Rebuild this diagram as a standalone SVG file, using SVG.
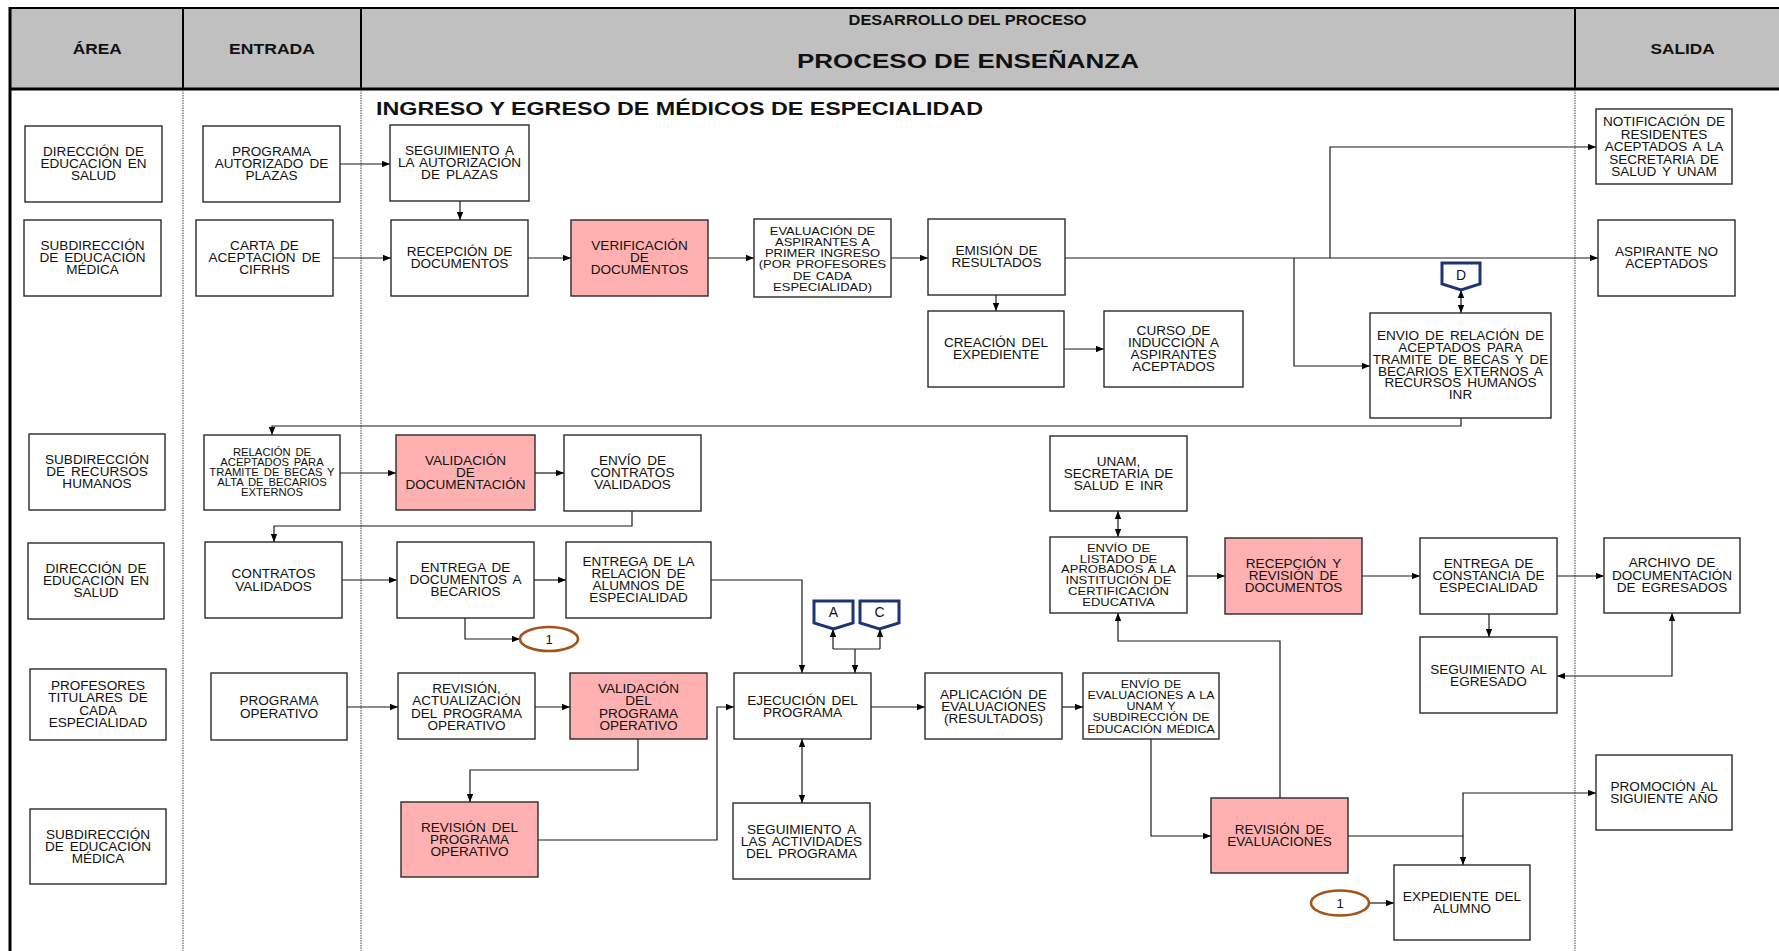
<svg xmlns="http://www.w3.org/2000/svg" width="1779" height="951" viewBox="0 0 1779 951">
<style>
.bx{fill:#fff;stroke:#2a2a2a;stroke-width:1.4}
.pk{fill:#ffb1b1;stroke:#2a2a2a;stroke-width:1.4}
.t{font-family:"Liberation Sans",Arial,sans-serif;font-size:12px;text-anchor:middle;fill:#111;word-spacing:2px}
.hd{font-family:"Liberation Sans",Arial,sans-serif;font-weight:bold;fill:#111}
.cn{fill:none;stroke:#1a1a1a;stroke-width:1.2}
.ar{marker-end:url(#ah)}
.dbl{marker-start:url(#ah);marker-end:url(#ah)}
.lane{stroke:#666;stroke-width:1.2;stroke-dasharray:1.5 1}
.off{fill:#fff;stroke:#1c3473;stroke-width:3}
.ov{fill:#fff;stroke:#a3541c;stroke-width:2.6}
.ml{font-family:"Liberation Sans",Arial,sans-serif;font-size:14px;text-anchor:middle;fill:#111}
</style>
<defs>
<marker id="ah" viewBox="0 0 10 8" refX="10" refY="4" markerWidth="8" markerHeight="6.4" markerUnits="userSpaceOnUse" orient="auto-start-reverse"><path d="M0,0 L10,4 L0,8 z" fill="#000"/></marker>
</defs>
<rect width="1779" height="951" fill="#fff"/>
<g id="header">
<rect x="10" y="8" width="1769" height="81" fill="#c0c0c0"/>
<line x1="10" y1="8" x2="1779" y2="8" stroke="#000" stroke-width="2"/>
<line x1="10" y1="89" x2="1779" y2="89" stroke="#000" stroke-width="3"/>
<line x1="10" y1="7" x2="10" y2="951" stroke="#000" stroke-width="3"/>
<line x1="183" y1="8" x2="183" y2="89" stroke="#000" stroke-width="2"/>
<line x1="361" y1="8" x2="361" y2="89" stroke="#000" stroke-width="2"/>
<line x1="1575" y1="8" x2="1575" y2="89" stroke="#000" stroke-width="2"/>
<text class="hd" x="72.7" y="54" font-size="14" textLength="49" lengthAdjust="spacingAndGlyphs">ÁREA</text>
<text class="hd" x="229" y="54" font-size="14" textLength="86" lengthAdjust="spacingAndGlyphs">ENTRADA</text>
<text class="hd" x="848.6" y="25" font-size="14" textLength="238" lengthAdjust="spacingAndGlyphs">DESARROLLO DEL PROCESO</text>
<text class="hd" x="797" y="68" font-size="21" textLength="342" lengthAdjust="spacingAndGlyphs">PROCESO DE ENSEÑANZA</text>
<text class="hd" x="1650.6" y="54" font-size="14" textLength="64" lengthAdjust="spacingAndGlyphs">SALIDA</text>
</g>
<g id="lanes">
<line class="lane" x1="183" y1="90" x2="183" y2="951"/>
<line class="lane" x1="361" y1="90" x2="361" y2="951"/>
<line class="lane" x1="1575" y1="90" x2="1575" y2="951"/>
</g>
<text class="hd" x="376" y="115" font-size="18" textLength="607" lengthAdjust="spacingAndGlyphs">INGRESO  Y  EGRESO  DE  MÉDICOS  DE  ESPECIALIDAD</text>

<g id="connectors">
<path class="cn ar" d="M340,164 H390"/>
<path class="cn ar" d="M460,201 V220"/>
<path class="cn ar" d="M333,258 H391"/>
<path class="cn ar" d="M528,258 H571"/>
<path class="cn ar" d="M708,258 H754"/>
<path class="cn ar" d="M891,258 H928"/>
<path class="cn ar" d="M996,295 V311"/>
<path class="cn ar" d="M1064,349 H1104"/>
<path class="cn ar" d="M1065,258 H1598"/>
<path class="cn ar" d="M1330,258 V147 H1596"/>
<path class="cn ar" d="M1294,258 V366 H1370"/>
<path class="cn dbl" d="M1461,290 V313"/>
<path class="cn ar" d="M1461,418 V426 H272 V435"/>
<path class="cn ar" d="M340,473 H396"/>
<path class="cn ar" d="M535,473 H564"/>
<path class="cn ar" d="M632,511 V526 H274 V542"/>
<path class="cn ar" d="M342,580 H397"/>
<path class="cn ar" d="M534,580 H566"/>
<path class="cn ar" d="M465,618 V639 H520"/>
<path class="cn ar" d="M711,580 H802 V673"/>
<path class="cn ar" d="M855,649 V673"/>
<path class="cn" d="M833,649 H880"/>
<path class="cn ar" d="M833,649 V629"/>
<path class="cn ar" d="M880,649 V629"/>
<path class="cn ar" d="M347,707 H398"/>
<path class="cn ar" d="M535,707 H570"/>
<path class="cn ar" d="M638,739 V770 H470 V802"/>
<path class="cn ar" d="M538,840 H717 V707 H734"/>
<path class="cn ar" d="M871,707 H925"/>
<path class="cn ar" d="M1062,707 H1083"/>
<path class="cn dbl" d="M802,739 V803"/>
<path class="cn ar" d="M1151,739 V836 H1211"/>
<path class="cn ar" d="M1280,798 V641 H1118 V613"/>
<path class="cn dbl" d="M1118,511 V537"/>
<path class="cn ar" d="M1187,576 H1225"/>
<path class="cn ar" d="M1362,576 H1420"/>
<path class="cn ar" d="M1557,576 H1604"/>
<path class="cn ar" d="M1489,614 V637"/>
<path class="cn dbl" d="M1672,613 V676 H1557"/>
<path class="cn ar" d="M1348,836 H1463 V865"/>
<path class="cn ar" d="M1463,836 V793 H1596"/>
<path class="cn ar" d="M1369,903 H1394"/>
</g>

<g id="area1"><rect class="bx" x="25" y="126" width="137" height="76"/><text class="t" transform="matrix(1.13 0 0 1 93.5 0)"><tspan x="0" y="156.3">DIRECCIÓN  DE</tspan><tspan x="0" y="168.3">EDUCACIÓN  EN</tspan><tspan x="0" y="180.3">SALUD</tspan></text></g>
<g id="area2"><rect class="bx" x="24" y="220" width="137" height="76"/><text class="t" transform="matrix(1.13 0 0 1 92.5 0)"><tspan x="0" y="250.3">SUBDIRECCIÓN</tspan><tspan x="0" y="262.3">DE EDUCACIÓN</tspan><tspan x="0" y="274.3">MÉDICA</tspan></text></g>
<g id="area3"><rect class="bx" x="29" y="434" width="136" height="76"/><text class="t" transform="matrix(1.13 0 0 1 97 0)"><tspan x="0" y="464.3">SUBDIRECCIÓN</tspan><tspan x="0" y="476.3">DE RECURSOS</tspan><tspan x="0" y="488.3">HUMANOS</tspan></text></g>
<g id="area4"><rect class="bx" x="28" y="543" width="136" height="76"/><text class="t" transform="matrix(1.13 0 0 1 96 0)"><tspan x="0" y="573.3">DIRECCIÓN  DE</tspan><tspan x="0" y="585.3">EDUCACIÓN  EN</tspan><tspan x="0" y="597.3">SALUD</tspan></text></g>
<g id="area5"><rect class="bx" x="30" y="669" width="136" height="71"/><text class="t" transform="matrix(1.13 0 0 1 98 0)"><tspan x="0" y="690">PROFESORES</tspan><tspan x="0" y="702.5">TITULARES  DE</tspan><tspan x="0" y="715">CADA</tspan><tspan x="0" y="727.5">ESPECIALIDAD</tspan></text></g>
<g id="area6"><rect class="bx" x="30" y="809" width="136" height="75"/><text class="t" transform="matrix(1.13 0 0 1 98 0)"><tspan x="0" y="839.3">SUBDIRECCIÓN</tspan><tspan x="0" y="851.3">DE EDUCACIÓN</tspan><tspan x="0" y="863.3">MÉDICA</tspan></text></g>

<g id="in1"><rect class="bx" x="203" y="126" width="137" height="76"/><text class="t" transform="matrix(1.13 0 0 1 271.5 0)"><tspan x="0" y="156.3">PROGRAMA</tspan><tspan x="0" y="168.3">AUTORIZADO  DE</tspan><tspan x="0" y="180.3">PLAZAS</tspan></text></g>
<g id="in2"><rect class="bx" x="196" y="220" width="137" height="76"/><text class="t" transform="matrix(1.13 0 0 1 264.5 0)"><tspan x="0" y="250.3">CARTA  DE</tspan><tspan x="0" y="262.3">ACEPTACIÓN  DE</tspan><tspan x="0" y="274.3">CIFRHS</tspan></text></g>
<g id="in3"><rect class="bx" x="204" y="435" width="136" height="75"/><text class="t" style="font-size:10px;word-spacing:1.5px" transform="matrix(1.13 0 0 1 272 0)"><tspan x="0" y="456.3">RELACIÓN  DE</tspan><tspan x="0" y="466.3">ACEPTADOS  PARA</tspan><tspan x="0" y="476.3">TRAMITE  DE BECAS Y</tspan><tspan x="0" y="486.3">ALTA DE  BECARIOS</tspan><tspan x="0" y="496.3">EXTERNOS</tspan></text></g>
<g id="in4"><rect class="bx" x="205" y="542" width="137" height="76"/><text class="t" transform="matrix(1.13 0 0 1 273.5 0)"><tspan x="0" y="578.3">CONTRATOS</tspan><tspan x="0" y="591.3">VALIDADOS</tspan></text></g>
<g id="in5"><rect class="bx" x="211" y="673" width="136" height="67"/><text class="t" transform="matrix(1.13 0 0 1 279 0)"><tspan x="0" y="705.3">PROGRAMA</tspan><tspan x="0" y="718.3">OPERATIVO</tspan></text></g>

<g id="p_seguimiento"><rect class="bx" x="390" y="125" width="139" height="76"/><text class="t" transform="matrix(1.13 0 0 1 459.5 0)"><tspan x="0" y="155.3">SEGUIMIENTO  A</tspan><tspan x="0" y="167.3">LA AUTORIZACIÓN</tspan><tspan x="0" y="179.3">DE PLAZAS</tspan></text></g>
<g id="p_recepcion"><rect class="bx" x="391" y="220" width="137" height="76"/><text class="t" transform="matrix(1.13 0 0 1 459.5 0)"><tspan x="0" y="256.3">RECEPCIÓN  DE</tspan><tspan x="0" y="268.3">DOCUMENTOS</tspan></text></g>
<g id="p_verificacion"><rect class="pk" x="571" y="220" width="137" height="76"/><text class="t" transform="matrix(1.13 0 0 1 639.5 0)"><tspan x="0" y="250.3">VERIFICACIÓN</tspan><tspan x="0" y="262.3">DE</tspan><tspan x="0" y="274.3">DOCUMENTOS</tspan></text></g>
<g id="p_evaluacion"><rect class="bx" x="754" y="219" width="137" height="78"/><text class="t" style="font-size:11.5px;word-spacing:1px" transform="matrix(1.13 0 0 1 822.5 0)"><tspan x="0" y="234.8">EVALUACIÓN  DE</tspan><tspan x="0" y="246">ASPIRANTES A</tspan><tspan x="0" y="257.2">PRIMER INGRESO</tspan><tspan x="0" y="268.4">(POR PROFESORES</tspan><tspan x="0" y="279.6">DE CADA</tspan><tspan x="0" y="290.8">ESPECIALIDAD)</tspan></text></g>
<g id="p_emision"><rect class="bx" x="928" y="219" width="137" height="76"/><text class="t" transform="matrix(1.13 0 0 1 996.5 0)"><tspan x="0" y="255.3">EMISIÓN  DE</tspan><tspan x="0" y="267.3">RESULTADOS</tspan></text></g>
<g id="p_creacion"><rect class="bx" x="928" y="311" width="136" height="76"/><text class="t" transform="matrix(1.13 0 0 1 996 0)"><tspan x="0" y="347.3">CREACIÓN  DEL</tspan><tspan x="0" y="359.3">EXPEDIENTE</tspan></text></g>
<g id="p_curso"><rect class="bx" x="1104" y="311" width="139" height="76"/><text class="t" transform="matrix(1.13 0 0 1 1173.5 0)"><tspan x="0" y="335.3">CURSO  DE</tspan><tspan x="0" y="347.3">INDUCCIÓN  A</tspan><tspan x="0" y="359.3">ASPIRANTES</tspan><tspan x="0" y="371.3">ACEPTADOS</tspan></text></g>
<g id="p_envio_relacion"><rect class="bx" x="1370" y="313" width="181" height="105"/><text class="t" transform="matrix(1.13 0 0 1 1460.5 0)"><tspan x="0" y="340.3">ENVIO DE RELACIÓN  DE</tspan><tspan x="0" y="352.1">ACEPTADOS  PARA</tspan><tspan x="0" y="363.9">TRAMITE  DE BECAS Y DE</tspan><tspan x="0" y="375.7">BECARIOS  EXTERNOS  A</tspan><tspan x="0" y="387.5">RECURSOS  HUMANOS</tspan><tspan x="0" y="399.3">INR</tspan></text></g>
<g id="p_validacion_doc"><rect class="pk" x="396" y="435" width="139" height="75"/><text class="t" transform="matrix(1.13 0 0 1 465.5 0)"><tspan x="0" y="465.3">VALIDACIÓN</tspan><tspan x="0" y="477.3">DE</tspan><tspan x="0" y="489.3">DOCUMENTACIÓN</tspan></text></g>
<g id="p_envio_contratos"><rect class="bx" x="564" y="435" width="137" height="76"/><text class="t" transform="matrix(1.13 0 0 1 632.5 0)"><tspan x="0" y="465.3">ENVÍO DE</tspan><tspan x="0" y="477.3">CONTRATOS</tspan><tspan x="0" y="489.3">VALIDADOS</tspan></text></g>
<g id="p_entrega_doc"><rect class="bx" x="397" y="542" width="137" height="76"/><text class="t" transform="matrix(1.13 0 0 1 465.5 0)"><tspan x="0" y="572.3">ENTREGA  DE</tspan><tspan x="0" y="584.3">DOCUMENTOS  A</tspan><tspan x="0" y="596.3">BECARIOS</tspan></text></g>
<g id="p_entrega_rel"><rect class="bx" x="566" y="542" width="145" height="76"/><text class="t" transform="matrix(1.13 0 0 1 638.5 0)"><tspan x="0" y="566.3">ENTREGA  DE LA</tspan><tspan x="0" y="578.3">RELACIÓN  DE</tspan><tspan x="0" y="590.3">ALUMNOS  DE</tspan><tspan x="0" y="602.3">ESPECIALIDAD</tspan></text></g>
<g id="p_revision_act"><rect class="bx" x="398" y="673" width="137" height="66"/><text class="t" transform="matrix(1.13 0 0 1 466.5 0)"><tspan x="0" y="693">REVISIÓN,</tspan><tspan x="0" y="705.4">ACTUALIZACIÓN</tspan><tspan x="0" y="717.8">DEL PROGRAMA</tspan><tspan x="0" y="730.2">OPERATIVO</tspan></text></g>
<g id="p_validacion_prog"><rect class="pk" x="570" y="673" width="137" height="66"/><text class="t" transform="matrix(1.13 0 0 1 638.5 0)"><tspan x="0" y="693">VALIDACIÓN</tspan><tspan x="0" y="705.4">DEL</tspan><tspan x="0" y="717.8">PROGRAMA</tspan><tspan x="0" y="730.2">OPERATIVO</tspan></text></g>
<g id="p_revision_prog"><rect class="pk" x="401" y="802" width="137" height="75"/><text class="t" transform="matrix(1.13 0 0 1 469.5 0)"><tspan x="0" y="832.3">REVISIÓN  DEL</tspan><tspan x="0" y="844.3">PROGRAMA</tspan><tspan x="0" y="856.3">OPERATIVO</tspan></text></g>
<g id="p_ejecucion"><rect class="bx" x="734" y="673" width="137" height="66"/><text class="t" transform="matrix(1.13 0 0 1 802.5 0)"><tspan x="0" y="705.3">EJECUCIÓN  DEL</tspan><tspan x="0" y="717.3">PROGRAMA</tspan></text></g>
<g id="p_seguimiento_act"><rect class="bx" x="733" y="803" width="137" height="76"/><text class="t" transform="matrix(1.13 0 0 1 801.5 0)"><tspan x="0" y="834.3">SEGUIMIENTO  A</tspan><tspan x="0" y="846.3">LAS ACTIVIDADES</tspan><tspan x="0" y="858.3">DEL  PROGRAMA</tspan></text></g>
<g id="p_aplicacion"><rect class="bx" x="925" y="673" width="137" height="66"/><text class="t" transform="matrix(1.13 0 0 1 993.5 0)"><tspan x="0" y="699.3">APLICACIÓN   DE</tspan><tspan x="0" y="711.3">EVALUACIONES</tspan><tspan x="0" y="723.3">(RESULTADOS)</tspan></text></g>
<g id="p_envio_eval"><rect class="bx" x="1083" y="673" width="136" height="66"/><text class="t" style="font-size:11px;word-spacing:1px" transform="matrix(1.13 0 0 1 1151 0)"><tspan x="0" y="687.9">ENVÍO DE</tspan><tspan x="0" y="699.1">EVALUACIONES  A LA</tspan><tspan x="0" y="710.3">UNAM Y</tspan><tspan x="0" y="721.5">SUBDIRECCIÓN DE</tspan><tspan x="0" y="732.7">EDUCACIÓN MÉDICA</tspan></text></g>
<g id="p_unam"><rect class="bx" x="1050" y="436" width="137" height="75"/><text class="t" transform="matrix(1.13 0 0 1 1118.5 0)"><tspan x="0" y="466.3">UNAM,</tspan><tspan x="0" y="478.3">SECRETARIA  DE</tspan><tspan x="0" y="490.3">SALUD E INR</tspan></text></g>
<g id="p_envio_listado"><rect class="bx" x="1050" y="537" width="137" height="76"/><text class="t" style="font-size:11.5px;word-spacing:1px" transform="matrix(1.13 0 0 1 1118.5 0)"><tspan x="0" y="551.8">ENVÍO DE</tspan><tspan x="0" y="562.6">LISTADO  DE</tspan><tspan x="0" y="573.4">APROBADOS  A LA</tspan><tspan x="0" y="584.2">INSTITUCIÓN  DE</tspan><tspan x="0" y="595">CERTIFICACIÓN</tspan><tspan x="0" y="605.8">EDUCATIVA</tspan></text></g>
<g id="p_recepcion_rev"><rect class="pk" x="1225" y="538" width="137" height="76"/><text class="t" transform="matrix(1.13 0 0 1 1293.5 0)"><tspan x="0" y="568.3">RECEPCIÓN  Y</tspan><tspan x="0" y="580.3">REVISIÓN  DE</tspan><tspan x="0" y="592.3">DOCUMENTOS</tspan></text></g>
<g id="p_entrega_const"><rect class="bx" x="1420" y="538" width="137" height="76"/><text class="t" transform="matrix(1.13 0 0 1 1488.5 0)"><tspan x="0" y="568.3">ENTREGA  DE</tspan><tspan x="0" y="580.3">CONSTANCIA  DE</tspan><tspan x="0" y="592.3">ESPECIALIDAD</tspan></text></g>
<g id="p_seguimiento_egr"><rect class="bx" x="1420" y="637" width="137" height="76"/><text class="t" transform="matrix(1.13 0 0 1 1488.5 0)"><tspan x="0" y="673.6">SEGUIMIENTO  AL</tspan><tspan x="0" y="686.3">EGRESADO</tspan></text></g>
<g id="p_revision_eval"><rect class="pk" x="1211" y="798" width="137" height="75"/><text class="t" transform="matrix(1.13 0 0 1 1279.5 0)"><tspan x="0" y="834.3">REVISIÓN  DE</tspan><tspan x="0" y="846.3">EVALUACIONES</tspan></text></g>
<g id="p_expediente"><rect class="bx" x="1394" y="865" width="136" height="75"/><text class="t" transform="matrix(1.13 0 0 1 1462 0)"><tspan x="0" y="901.3">EXPEDIENTE  DEL</tspan><tspan x="0" y="913.3">ALUMNO</tspan></text></g>

<g id="out_notificacion"><rect class="bx" x="1596" y="109" width="136" height="75"/><text class="t" transform="matrix(1.13 0 0 1 1664 0)"><tspan x="0" y="126.3">NOTIFICACIÓN  DE</tspan><tspan x="0" y="138.8">RESIDENTES</tspan><tspan x="0" y="151.3">ACEPTADOS  A LA</tspan><tspan x="0" y="163.8">SECRETARIA  DE</tspan><tspan x="0" y="176.3">SALUD  Y UNAM</tspan></text></g>
<g id="out_aspirante"><rect class="bx" x="1598" y="220" width="137" height="76"/><text class="t" transform="matrix(1.13 0 0 1 1666.5 0)"><tspan x="0" y="256.3">ASPIRANTE  NO</tspan><tspan x="0" y="268.3">ACEPTADOS</tspan></text></g>
<g id="out_archivo"><rect class="bx" x="1604" y="538" width="136" height="75"/><text class="t" transform="matrix(1.13 0 0 1 1672 0)"><tspan x="0" y="567.3">ARCHIVO  DE</tspan><tspan x="0" y="579.8">DOCUMENTACIÓN</tspan><tspan x="0" y="592.3">DE EGRESADOS</tspan></text></g>
<g id="out_promocion"><rect class="bx" x="1596" y="755" width="136" height="75"/><text class="t" transform="matrix(1.13 0 0 1 1664 0)"><tspan x="0" y="791.3">PROMOCIÓN  AL</tspan><tspan x="0" y="803.3">SIGUIENTE  AÑO</tspan></text></g>

<g id="conn_D"><path class="off" d="M1442,263 H1480 V284 L1461,290 L1442,284 Z"/><text class="ml" x="1461" y="280">D</text></g>
<g id="conn_A"><path class="off" d="M814,601 H853 V623 L833.5,629 L814,623 Z"/><text class="ml" x="833.5" y="617">A</text></g>
<g id="conn_C"><path class="off" d="M860,601 H899 V623 L879.5,629 L860,623 Z"/><text class="ml" x="879.5" y="617">C</text></g>
<g id="conn_1a"><ellipse class="ov" cx="549" cy="639" rx="29" ry="12"/><text class="ml" style="font-size:13px" x="549" y="643.5">1</text></g>
<g id="conn_1b"><ellipse class="ov" cx="1340" cy="903" rx="29" ry="12.5"/><text class="ml" style="font-size:13px" x="1340" y="907.5">1</text></g>
</svg>
